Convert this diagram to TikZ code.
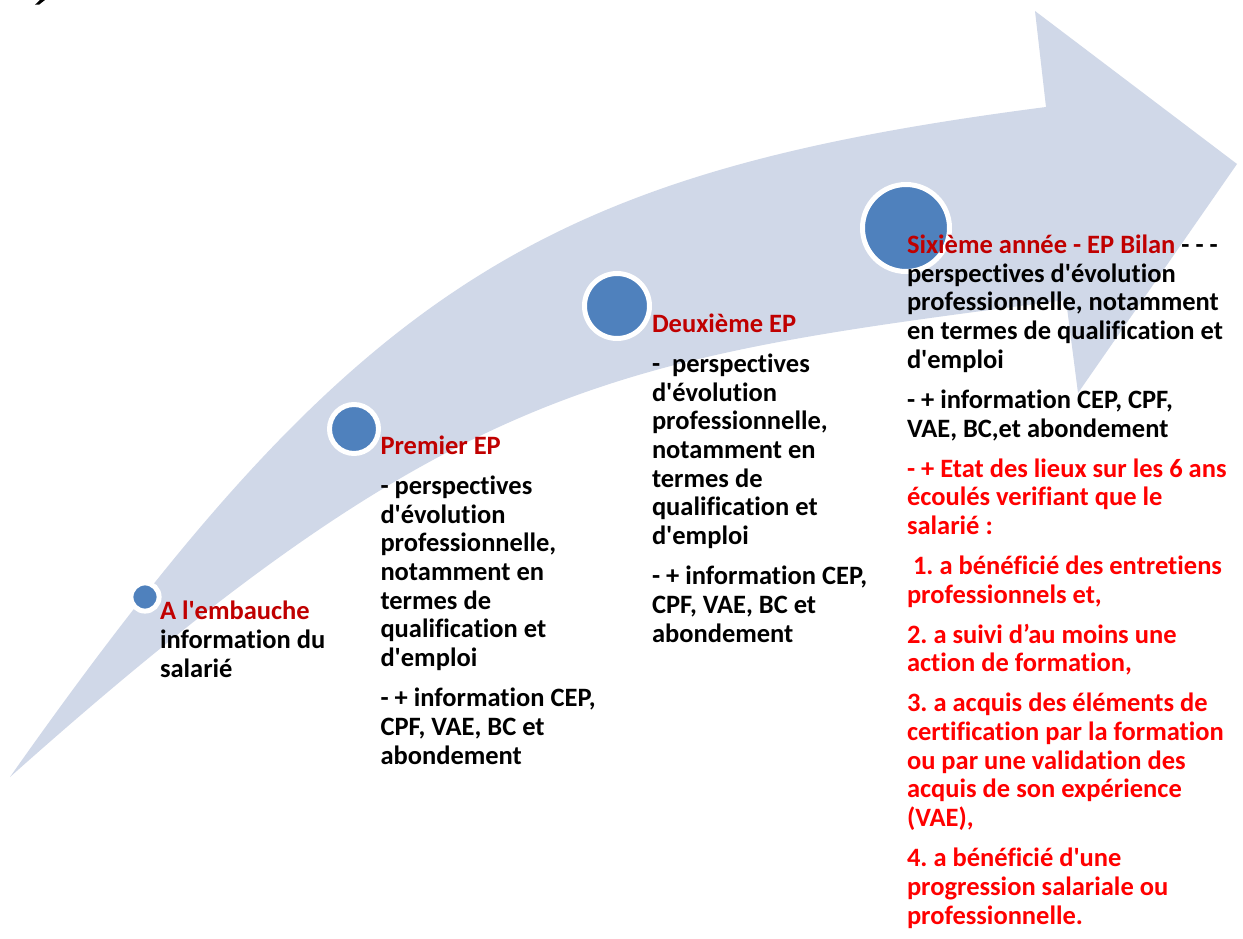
\documentclass[tikz,border=0pt]{standalone}
\usepackage{fontspec}
\newfontfamily\calib{Carlito}[Ligatures=NoCommon]
\definecolor{arrowfill}{HTML}{D0D8E8}
\definecolor{dotfill}{HTML}{4F81BD}
\definecolor{dred}{HTML}{C00000}
\definecolor{bred}{HTML}{FF0000}
\newcommand\Rl[1]{\textcolor{bred}{#1}}
\newcommand\Tl[1]{\textcolor{dred}{#1}}
\frenchspacing
\begin{document}
\begin{tikzpicture}[x=1pt,y=-1pt,
  txt/.style={anchor=base west, inner sep=0pt, outer sep=0pt, align=left,
    font=\calib\bfseries\frenchspacing\fontsize{26.5}{28.7}\selectfont, text=black},
  epdot/.style={circle, fill=dotfill, draw=white, line width=5pt, inner sep=0pt,
    outer sep=0pt, minimum size=#1},
]
\useasboundingbox[fill=white] (0,0) rectangle (1243,939);
% curved arrow
\fill[arrowfill] (10,777) .. controls (360,280) and (546,172) .. (1046,107)
  -- (1035,11) -- (1237,164) -- (1078,393) -- (1066,300)
  .. controls (616,358.5) and (460,376) .. (10,777) -- cycle;
% fragment at top left
\fill[black] (35,4.7) -- (39,4.7) -- (45,0) -- (40,0) -- cycle;
% milestones
\node[epdot=28.2] (c1) at (145,597) {};
\node[epdot=49] (c2) at (354,429) {};
\node[epdot=65] (c3) at (617,306) {};
\node[epdot=87] (c4) at (906,228) {};
% texts (anchored at the baseline of their last line)
\node[txt] (t1) at (160,677) {\Tl{A l'embauche}\\information du\\salarié};
\node[txt] (t2) at (380.5,764) {\Tl{Premier EP}\\[11.3pt]
- perspectives\\d'évolution\\professionnelle,\\notamment en\\termes de\\qualification et\\d'emploi\\[11.3pt]
- + information CEP,\\CPF, VAE, BC et\\abondement};
\node[txt] (t3) at (652,642) {\Tl{Deuxième EP}\\[11.3pt]
-~ perspectives\\d'évolution\\professionnelle,\\notamment en\\termes de\\qualification et\\d'emploi\\[11.3pt]
- + information CEP,\\CPF, VAE, BC et\\abondement};
\node[txt] (t4) at (907,924) {\Tl{Sixième année - EP Bilan} - - -\\perspectives d'évolution\\professionnelle, notamment\\en termes de qualification et\\d'emploi\\[11.3pt]
- + information CEP, CPF,\\VAE, BC,et abondement\\[11.3pt]
\Rl{- + Etat des lieux sur les 6 ans}\\\Rl{écoulés verifiant que le}\\\Rl{salarié :}\\[11.3pt]
\Rl{\ 1. a bénéficié des entretiens}\\\Rl{professionnels et,}\\[11.3pt]
\Rl{2. a suivi d’au moins une}\\\Rl{action de formation,}\\[11.3pt]
\Rl{3. a acquis des éléments de}\\\Rl{certification par la formation}\\\Rl{ou par une validation des}\\\Rl{acquis de son expérience}\\\Rl{(VAE),}\\[11.3pt]
\Rl{4. a bénéficié d'une}\\\Rl{progression salariale ou}\\\Rl{professionnelle.}};
\end{tikzpicture}
\end{document}
